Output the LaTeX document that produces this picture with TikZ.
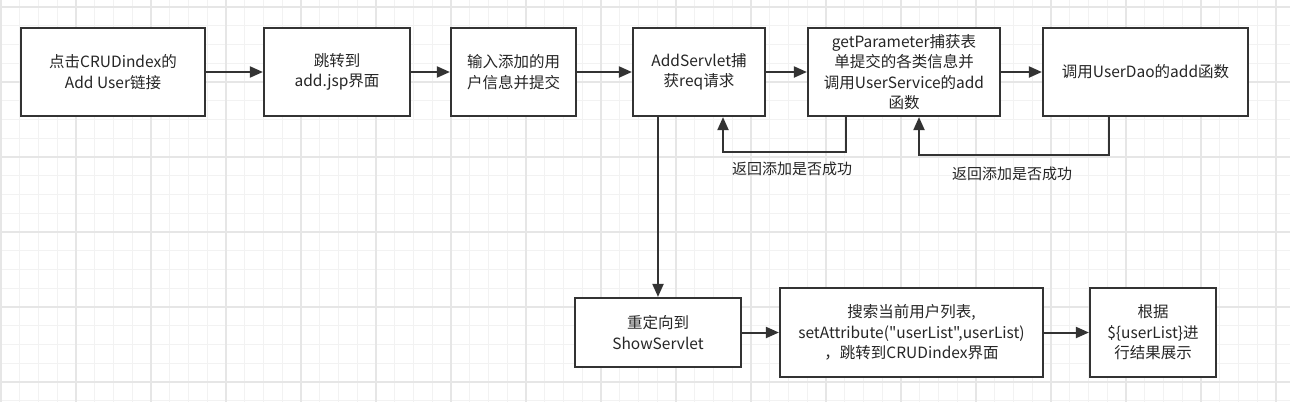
\documentclass[tikz,border=0pt]{standalone}
\usepackage{fontspec}
\setmainfont{Noto Sans CJK SC}[Ligatures=TeXOff]
\usetikzlibrary{arrows.meta}
\usetikzlibrary{calc}
\definecolor{linegray}{HTML}{333333}
\definecolor{gridminor}{HTML}{F2F2F2}
\definecolor{gridmajor}{HTML}{E6E6E6}
\tikzset{
    procbox/.style = {draw=linegray, line width=2.2pt, fill=white, align=center,
        inner sep=0pt, text=black!85, font=\fontsize{15.5}{20.5}\selectfont},% process step
    flow/.style = {draw=linegray, line width=2pt,
        -{Triangle[length=13pt, width=11pt]}},% connector
    retlabel/.style = {text=black!85, font=\fontsize{15}{18}\selectfont},% return label
}

\begin{document}
\begin{tikzpicture}[x=1pt, y=-1pt]
\useasboundingbox (0,0) rectangle (1290,402);
\fill[white] (0,0) rectangle (1290,402);
% background grid
\foreach \i in {0,...,68}
    \draw[gridminor, line width=1pt] ({1+18.75*\i},0) -- ({1+18.75*\i},402);
\foreach \i in {0,...,21}
    \draw[gridminor, line width=1pt] (0,{7+18.75*\i}) -- (1290,{7+18.75*\i});
\foreach \i in {0,...,17}
    \draw[gridmajor, line width=1.2pt] ({1+75*\i},0) -- ({1+75*\i},402);
\foreach \i in {0,...,5}
    \draw[gridmajor, line width=1.2pt] (0,{7+75*\i}) -- (1290,{7+75*\i});

% top row
\node[procbox, minimum width=184pt, minimum height=88pt] (click) at (113,72)
    {点击CRUDindex的\\Add User链接};
\node[procbox, minimum width=146pt, minimum height=88pt] (jump) at (337,72)
    {跳转到\\add.jsp界面};
\node[procbox, minimum width=125pt, minimum height=88pt] (input) at (513.5,72)
    {输入添加的用\\户信息并提交};
\node[procbox, minimum width=132pt, minimum height=88pt] (addsrv) at (699,72)
    {AddServlet捕\\获req请求};
\node[procbox, minimum width=192pt, minimum height=88pt] (getpar) at (904,72)
    {getParameter捕获表\\单提交的各类信息并\\调用UserService的add\\函数};
\node[procbox, minimum width=205pt, minimum height=88pt] (dao) at (1145.5,72)
    {调用UserDao的add函数};

% bottom row
\node[procbox, minimum width=166pt, minimum height=69pt] (redir) at (658,332.5)
    {重定向到\\ShowServlet};
\node[procbox, minimum width=263pt, minimum height=89pt] (search) at (911.5,332.5)
    {搜索当前用户列表,\\setAttribute("userList",userList)\\，跳转到CRUDindex界面};
\node[procbox, minimum width=126pt, minimum height=89pt] (show) at (1153,332.5)
    {根据\\\$\{userList\}进\\行结果展示};

\draw[flow] (click) -- (jump);
\draw[flow] (jump) -- (input);
\draw[flow] (input) -- (addsrv);
\draw[flow] (addsrv) -- (getpar);
\draw[flow] (getpar) -- (dao);
\draw[flow] (addsrv.south -| redir.north) -- (redir.north);
\draw[flow] (redir) -- (search);
\draw[flow] (search) -- (show);

% return paths
\coordinate (ret1a) at (846,152);
\coordinate (ret1b) at (723,152);
\coordinate (ret2a) at (1109,155);
\coordinate (ret2b) at (919,155);
\draw[flow] (getpar.south -| ret1a) -- (ret1a) -- (ret1b) -- (addsrv.south -| ret1b);
\draw[flow] (dao.south -| ret2a) -- (ret2a) -- (ret2b) -- (getpar.south -| ret2b);
\node[retlabel] (ret1lbl) at (792,169) {返回添加是否成功};
\node[retlabel] (ret2lbl) at (1012,174) {返回添加是否成功};
\end{tikzpicture}
\end{document}
